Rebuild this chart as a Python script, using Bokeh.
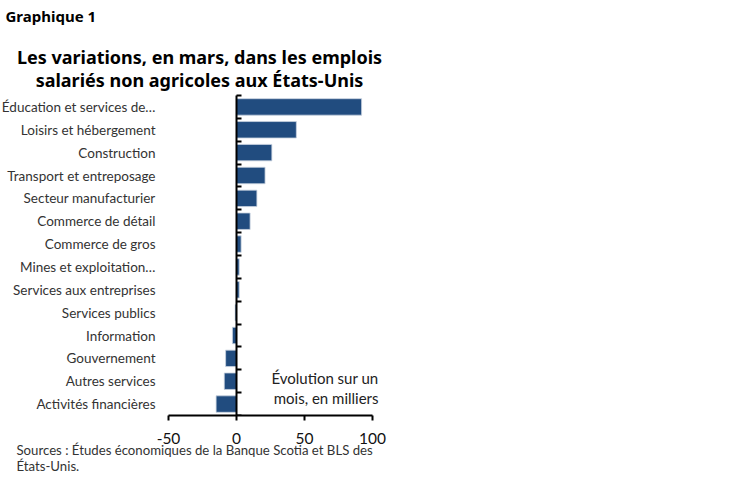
from bokeh.plotting import figure
from bokeh.models import Range1d, FixedTicker, LinearAxis, Label, Title
from bokeh.core.properties import value
from bokeh.embed import file_html
from bokeh.resources import INLINE

categories = [
    "Éducation et services de…",
    "Loisirs et hébergement",
    "Construction",
    "Transport et entreposage",
    "Secteur manufacturier",
    "Commerce de détail",
    "Commerce de gros",
    "Mines et exploitation…",
    "Services aux entreprises",
    "Services publics",
    "Information",
    "Gouvernement",
    "Autres services",
    "Activités financières",
]
values = [92, 44, 26, 21, 15, 10, 3.4, 2, 2, -1, -3, -8, -9, -15]
x_ticks = [-50, 0, 50, 100]
x_tick_labels = ["-50", "0", "50", "100"]

header = "Graphique 1"
title_lines = ["Les variations, en mars, dans les emplois",
               "salariés non agricoles aux États-Unis"]
note_lines = ["Évolution sur un", "mois, en milliers"]
source_lines = ["Sources : Études économiques de la Banque Scotia et BLS des",
                "États-Unis."]

BAR = "#214C7F"
FONT = "Noto Sans"
LFONT = "Lato"

n = len(categories)
PXU = 204 / 150            # pixels per unit on the x axis
AX_PX = 168                # canvas px where the x axis starts (-50)
FW = 398                   # frame width (frame starts at canvas left)
AX_TOP, AX_BOT = 95, 415   # canvas px of the category band
UPX = (AX_BOT - AX_TOP) / n  # pixels per category
XL = -50 - AX_PX / PXU
XR = XL + FW / PXU
Y0 = 0
Y1 = AX_BOT / UPX          # frame reaches the canvas top

p = figure(frame_width=FW, frame_height=AX_BOT,
           x_range=Range1d(XL, XR), y_range=Range1d(Y0, Y1),
           output_backend="svg", toolbar_location=None,
           y_axis_location=None,
           min_border_left=0, min_border_right=0,
           min_border_top=0, min_border_bottom=66)
p.outline_line_color = None
p.xgrid.visible = False
p.ygrid.visible = False
p.background_fill_color = "white"
p.border_fill_color = "white"

ypos = [n - 0.5 - i for i in range(n)]
p.hbar(y=ypos, left=0, right=values, height=0.72,
       fill_color=BAR, line_color="#c9d3e0", line_width=0.8)


def dx(px):
    return XL + px / PXU


def dy(py):
    return (AX_BOT - py) / UPX


# category labels
p.text(x=[dx(155)] * n, y=ypos, text=categories,
       text_font=value(LFONT), text_font_size="13.5px",
       text_color="#333333", text_align="right", text_baseline="middle")

# x axis
xa = p.xaxis[0]
xa.bounds = (-50, 100)
xa.ticker = FixedTicker(ticks=x_ticks)
xa.major_label_overrides = dict(zip(x_ticks, x_tick_labels))
xa.axis_line_color = "black"
xa.axis_line_width = 2
xa.major_tick_line_color = "black"
xa.major_tick_line_width = 2
xa.major_tick_out = 5
xa.major_tick_in = 0
xa.minor_tick_line_color = None
xa.major_label_text_font = LFONT
xa.major_label_text_font_size = "15.5px"
xa.major_label_text_color = "#111111"
xa.major_label_standoff = 12

# zero line with boundary ticks (no labels)
za_ticks = list(range(n + 1))
za = LinearAxis(fixed_location=0, bounds=(0, n),
                ticker=FixedTicker(ticks=za_ticks))
za.major_label_overrides = {t: "" for t in za_ticks}
za.axis_line_color = "black"
za.axis_line_width = 2
za.major_tick_line_color = "black"
za.major_tick_line_width = 2
za.major_tick_out = 5
za.major_tick_in = 0
za.minor_tick_line_color = None
za.major_label_standoff = 0
p.add_layout(za, "right")


def lab(text, px, py, size, align="left", bold=False, color="black", font=FONT):
    p.add_layout(Label(x=dx(px), y=dy(py), text=text, text_font=font,
                       text_font_size=size, text_align=align,
                       text_baseline="middle", text_color=color,
                       text_font_style="bold" if bold else "normal"))


lab(header, 5, 15, "15px", bold=True)
lab(title_lines[0], 199, 56, "18px", align="center", bold=True)
lab(title_lines[1], 199, 79, "18px", align="center", bold=True)
lab(note_lines[0], 378, 377, "15px", align="right", color="#222222", font=LFONT)
lab(note_lines[1], 378, 397, "15px", align="right", color="#222222", font=LFONT)

# sources below the axis
p.add_layout(Title(text="\n".join(source_lines), align="left", offset=16,
                   vertical_align="top",
                   text_font=LFONT, text_font_size="13.2px",
                   text_font_style="normal", text_color="#333333",
                   standoff=-9), "below")

open("out.html", "w").write(file_html(p, INLINE))
